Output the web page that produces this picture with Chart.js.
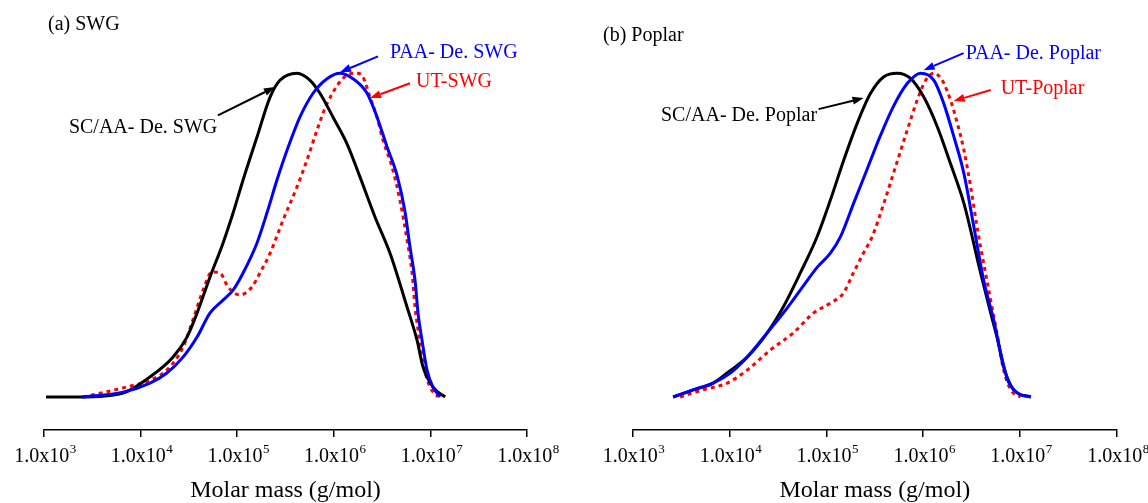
<!DOCTYPE html>
<html>
<head>
<meta charset="utf-8">
<script src="https://cdn.jsdelivr.net/npm/chart.js@4.4.0/dist/chart.umd.min.js"></script>
<style>
body { margin: 0; background: #fff; }
.panel { position: absolute; top: 0; width: 574px; height: 503px; }
</style>
</head>
<body>
<div class="panel" style="left:0"><canvas id="chartSWG"></canvas></div>
<div class="panel" style="left:574px"><canvas id="chartPoplar"></canvas></div>
<script>
// molar mass (g/mol) and normalised signal
const decades = [1e3, 1e4, 1e5, 1e6, 1e7, 1e8];

// (a) SWG
const swgMassSCAA = [1.05e3, 2.34e3, 6.58e3, 1.25e4, 2.16e4, 3.02e4, 3.84e4, 5.22e4, 7.13e4, 9.06e4, 1.15e5, 1.60e5, 2.19e5, 2.77e5, 4.16e5, 5.68e5, 7.19e5, 9.82e5, 1.37e6, 1.87e6, 2.67e6, 3.82e6, 5.73e6, 7.26e6, 8.38e6, 1.06e7, 1.42e7];
const swgSCAA = [0, 0, 0.012, 0.062, 0.123, 0.185, 0.259, 0.370, 0.475, 0.568, 0.670, 0.802, 0.926, 0.978, 1.0, 0.978, 0.938, 0.864, 0.782, 0.679, 0.556, 0.444, 0.278, 0.176, 0.093, 0.031, 0];

const swgMassPAA = [2.47e3, 6.58e3, 1.25e4, 1.87e4, 2.75e4, 3.84e4, 5.22e4, 7.13e4, 9.06e4, 1.15e5, 1.60e5, 2.03e5, 2.58e5, 3.28e5, 4.47e5, 6.10e5, 8.51e5, 1.16e6, 1.58e6, 2.21e6, 2.80e6, 3.56e6, 4.51e6, 5.46e6, 6.15e6, 6.93e6, 7.45e6, 8.18e6, 9.23e6, 1.06e7, 1.26e7];
const swgPAA = [0, 0.015, 0.043, 0.074, 0.123, 0.185, 0.259, 0.299, 0.330, 0.383, 0.475, 0.568, 0.670, 0.762, 0.865, 0.938, 0.983, 1.0, 0.983, 0.938, 0.865, 0.772, 0.685, 0.572, 0.463, 0.361, 0.259, 0.176, 0.083, 0.031, 0];

const swgMassUT = [2.54e3, 6.58e3, 1.25e4, 1.87e4, 2.75e4, 3.48e4, 4.43e4, 5.48e4, 6.64e4, 8.04e4, 1.07e5, 1.42e5, 1.72e5, 2.19e5, 2.98e5, 4.16e5, 5.28e5, 6.70e5, 8.51e5, 1.37e6, 1.74e6, 2.00e6, 2.37e6, 2.80e6, 3.23e6, 4.00e6, 4.84e6, 5.73e6, 6.46e6, 6.93e6, 7.45e6, 8.38e6, 9.91e6, 1.20e7];
const swgUT = [0, 0.028, 0.052, 0.083, 0.154, 0.238, 0.330, 0.386, 0.383, 0.340, 0.315, 0.340, 0.383, 0.444, 0.546, 0.649, 0.732, 0.824, 0.906, 0.994, 1.0, 0.989, 0.926, 0.864, 0.793, 0.711, 0.607, 0.485, 0.383, 0.278, 0.207, 0.105, 0.031, 0];

// (b) Poplar
const popMassSCAA = [2.62e3, 4.22e3, 6.78e3, 9.46e3, 1.52e4, 2.45e4, 3.59e4, 5.38e4, 8.02e4, 1.10e5, 1.51e5, 2.08e5, 2.85e5, 3.92e5, 5.38e5, 7.40e5, 1.01e6, 1.40e6, 1.91e6, 2.63e6, 3.91e6, 4.97e6, 5.86e6, 6.76e6, 8.59e6, 1.29e7];
const popSCAA = [0, 0.022, 0.043, 0.074, 0.123, 0.198, 0.278, 0.383, 0.495, 0.608, 0.731, 0.845, 0.937, 0.989, 1.0, 0.984, 0.927, 0.834, 0.721, 0.598, 0.383, 0.259, 0.176, 0.093, 0.022, 0];

const popMassPAA = [2.62e3, 4.22e3, 6.78e3, 1.02e4, 1.52e4, 2.45e4, 3.59e4, 5.38e4, 8.07e4, 1.10e5, 1.40e5, 1.91e5, 2.64e5, 3.61e5, 4.97e5, 6.83e5, 9.38e5, 1.29e6, 1.63e6, 2.07e6, 2.63e6, 3.31e6, 4.20e6, 5.33e6, 6.30e6, 7.45e6, 9.44e6, 1.29e7];
const popPAA = [0, 0.022, 0.043, 0.074, 0.123, 0.198, 0.259, 0.330, 0.401, 0.444, 0.495, 0.598, 0.704, 0.807, 0.900, 0.968, 1.0, 0.978, 0.906, 0.804, 0.690, 0.530, 0.361, 0.238, 0.136, 0.052, 0.012, 0];

const popMassUT = [3.09e3, 5.35e3, 9.46e3, 1.52e4, 2.64e4, 4.56e4, 7.35e4, 1.10e5, 1.50e5, 1.90e5, 2.41e5, 2.97e5, 3.92e5, 5.18e5, 6.83e5, 8.67e5, 1.06e6, 1.29e6, 1.57e6, 1.91e6, 2.25e6, 2.63e6, 3.08e6, 3.64e6, 4.20e6, 4.97e6, 5.86e6, 6.76e6, 8.00e6, 1.01e7];
const popUT = [0, 0.022, 0.043, 0.083, 0.145, 0.198, 0.259, 0.290, 0.321, 0.383, 0.444, 0.495, 0.598, 0.711, 0.824, 0.917, 0.978, 1.0, 0.978, 0.917, 0.845, 0.762, 0.650, 0.515, 0.414, 0.299, 0.185, 0.083, 0.022, 0];

const serif = "'Liberation Serif', 'Times New Roman', serif";
const BLACK = '#000000', BLUE = '#0000ff', RED = '#ff0000';

function drawArrow(ctx, x1, y1, x2, y2, color) {
    const a = Math.atan2(y2 - y1, x2 - x1);
    const len = 11, half = 4;
    const bx = x2 - len * Math.cos(a), by = y2 - len * Math.sin(a);
    ctx.strokeStyle = color;
    ctx.fillStyle = color;
    ctx.lineWidth = 2;
    ctx.beginPath();
    ctx.moveTo(x1, y1);
    ctx.lineTo(bx, by);
    ctx.stroke();
    ctx.beginPath();
    ctx.moveTo(x2, y2);
    ctx.lineTo(bx + half * Math.sin(a), by - half * Math.cos(a));
    ctx.lineTo(bx - half * Math.sin(a), by + half * Math.cos(a));
    ctx.closePath();
    ctx.fill();
}

// tick labels with superscript, axis title, panel label, curve labels + arrows
const notesPlugin = {
    id: 'notes',
    afterDraw(chart, args, opts) {
        const ctx = chart.ctx;
        const xs = chart.scales.x, ys = chart.scales.y;
        ctx.save();
        ctx.fillStyle = '#000';
        ctx.textBaseline = 'alphabetic';
        ctx.textAlign = 'left';
        decades.forEach(v => {
            const px = xs.getPixelForValue(v);
            const exp = String(Math.round(Math.log10(v)));
            ctx.font = '20px ' + serif;
            const w1 = ctx.measureText('1.0x10').width;
            ctx.font = '13px ' + serif;
            const w2 = ctx.measureText(exp).width;
            const x0 = px - (w1 + w2) / 2 + 1;
            ctx.font = '20px ' + serif;
            ctx.fillText('1.0x10', x0, 462);
            ctx.font = '13px ' + serif;
            ctx.fillText(exp, x0 + w1 + 0.5, 453);
        });

        ctx.font = '24px ' + serif;
        ctx.textAlign = 'center';
        ctx.fillText('Molar mass (g/mol)', (chart.chartArea.left + chart.chartArea.right) / 2, 497);

        ctx.font = '20px ' + serif;
        ctx.textAlign = 'left';
        ctx.fillText(opts.panel.text, opts.panel.x, opts.panel.y);

        ctx.textBaseline = 'middle';
        opts.labels.forEach(l => {
            ctx.fillStyle = l.color;
            ctx.textAlign = l.align;
            ctx.fillText(l.text, xs.getPixelForValue(l.x), ys.getPixelForValue(l.y));
        });
        opts.arrows.forEach(a => {
            drawArrow(ctx,
                xs.getPixelForValue(a.from[0]), ys.getPixelForValue(a.from[1]),
                xs.getPixelForValue(a.to[0]), ys.getPixelForValue(a.to[1]), a.color);
        });
        ctx.restore();
    }
};

function series(mass, vals, color, dash) {
    return {
        data: mass.map((m, i) => ({ x: m, y: vals[i] })),
        borderColor: color,
        backgroundColor: color,
        borderWidth: 3,
        borderDash: dash,
        borderCapStyle: 'butt',
        fill: false,
        pointRadius: 0,
        cubicInterpolationMode: 'monotone',
        clip: false
    };
}

function makeChart(id, datasets, pad, notes) {
    return new Chart(document.getElementById(id), {
        type: 'line',
        data: { datasets: datasets },
        options: {
            responsive: true,
            maintainAspectRatio: false,
            animation: false,
            layout: { padding: pad },
            scales: {
                x: {
                    type: 'logarithmic',
                    min: 1e3,
                    max: 1e8,
                    afterBuildTicks: s => { s.ticks = decades.map(v => ({ value: v })); },
                    afterFit: s => { s.height = 73; },
                    ticks: { display: false },
                    grid: { drawOnChartArea: false, drawTicks: true, tickLength: 7, color: '#000', lineWidth: 1.5 },
                    border: { display: true, color: '#000', width: 1.5 }
                },
                y: { display: false, min: -0.102, max: 1.05 }
            },
            plugins: {
                legend: { display: false },
                tooltip: { enabled: false },
                notes: notes
            }
        },
        plugins: [notesPlugin]
    });
}

makeChart('chartSWG', [
    series(swgMassPAA, swgPAA, BLUE, []),
    series(swgMassSCAA, swgSCAA, BLACK, []),
    series(swgMassUT, swgUT, RED, [4, 4])
], { left: 44, right: 47, top: 57, bottom: 0 }, {
    panel: { text: '(a) SWG', x: 48, y: 30 },
    labels: [
        { text: 'SC/AA- De. SWG', x: 1.06e4, y: 0.833, align: 'center', color: BLACK },
        { text: 'PAA- De. SWG', x: 3.82e6, y: 1.063, align: 'left', color: BLUE },
        { text: 'UT-SWG', x: 7.10e6, y: 0.973, align: 'left', color: RED }
    ],
    arrows: [
        { from: [6.32e4, 0.870], to: [2.46e5, 0.957], color: BLACK },
        { from: [2.87e6, 1.052], to: [1.16e6, 1.003], color: BLUE },
        { from: [6.15e6, 0.969], to: [2.37e6, 0.923], color: RED }
    ]
});

makeChart('chartPoplar', [
    series(popMassPAA, popPAA, BLUE, []),
    series(popMassSCAA, popSCAA, BLACK, []),
    series(popMassUT, popUT, RED, [4, 4])
], { left: 58.6, right: 31, top: 57, bottom: 0 }, {
    panel: { text: '(b) Poplar', x: 29, y: 41 },
    labels: [
        { text: 'SC/AA- De. Poplar', x: 8.02e4, y: 0.870, align: 'right', color: BLACK },
        { text: 'PAA- De. Poplar', x: 2.74e6, y: 1.059, align: 'left', color: BLUE },
        { text: 'UT-Poplar', x: 6.30e6, y: 0.953, align: 'left', color: RED }
    ],
    arrows: [
        { from: [8.32e4, 0.889], to: [2.42e5, 0.923], color: BLACK },
        { from: [2.61e6, 1.062], to: [1.01e6, 1.009], color: BLUE },
        { from: [4.97e6, 0.948], to: [2.06e6, 0.914], color: RED }
    ]
});
</script>
</body>
</html>
